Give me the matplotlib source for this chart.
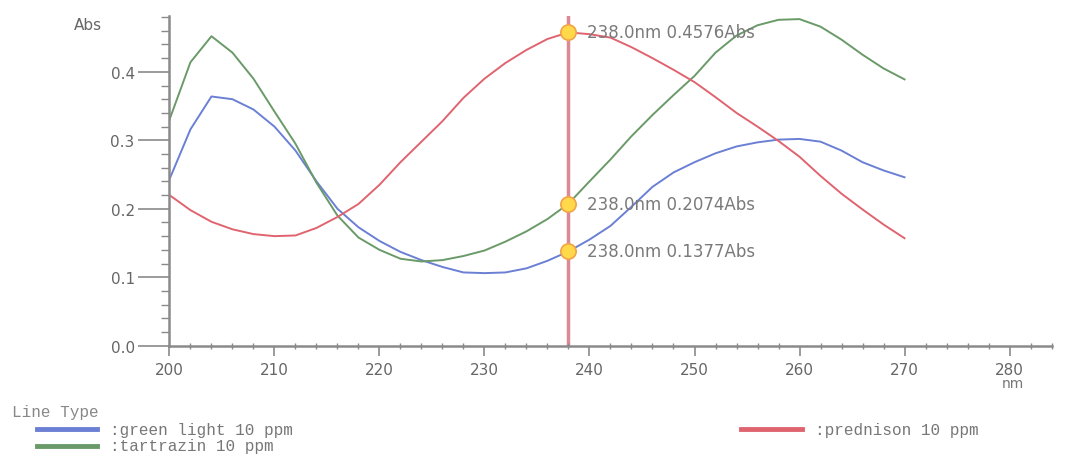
import matplotlib.pyplot as plt
from matplotlib.ticker import MultipleLocator, FormatStrFormatter

# wavelength grid (nm) and absorbance
wavelength = list(range(200, 272, 2))

green_light = [0.243, 0.316, 0.364, 0.360, 0.345, 0.320, 0.285, 0.240, 0.200, 0.173,
               0.153, 0.137, 0.125, 0.115, 0.107, 0.106, 0.107, 0.113, 0.124, 0.1377,
               0.155, 0.175, 0.203, 0.232, 0.253, 0.268, 0.281, 0.291, 0.297, 0.301,
               0.302, 0.298, 0.285, 0.268, 0.256, 0.246]

tartrazin = [0.330, 0.414, 0.452, 0.428, 0.390, 0.342, 0.295, 0.238, 0.190, 0.158,
             0.140, 0.127, 0.123, 0.125, 0.131, 0.139, 0.152, 0.167, 0.185, 0.2074,
             0.240, 0.272, 0.306, 0.337, 0.366, 0.394, 0.428, 0.453, 0.468, 0.476,
             0.477, 0.466, 0.447, 0.425, 0.405, 0.389]

prednison = [0.220, 0.198, 0.181, 0.170, 0.163, 0.160, 0.161, 0.172, 0.188, 0.207,
             0.235, 0.268, 0.298, 0.328, 0.362, 0.390, 0.413, 0.432, 0.448, 0.4576,
             0.455, 0.450, 0.436, 0.420, 0.403, 0.385, 0.363, 0.340, 0.320, 0.299,
             0.276, 0.248, 0.222, 0.199, 0.177, 0.157]

cursor_nm = 238.0

series = [
    (':green light 10 ppm', green_light, '#6b80d4'),
    (':tartrazin 10 ppm', tartrazin, '#6a9a68'),
    (':prednison 10 ppm', prednison, '#e0646f'),
]

fig = plt.figure(figsize=(10.89, 4.56), dpi=100)
ax = fig.add_axes([0.1556, 0.2397, 0.810, 0.7237])

for name, vals, col in series:
    ax.plot(wavelength, vals, color=col, lw=1.4)

ax.axvline(cursor_nm, color='#d98a95', lw=2.5, zorder=1)

# cursor readouts
idx = wavelength.index(int(cursor_nm))
for name, vals, col in series:
    v = vals[idx]
    ax.plot(cursor_nm, v, 'o', ms=11, mfc='#ffd94a', mec='#f2a348', mew=1.2, zorder=5)
    ax.annotate(f'{cursor_nm:.1f}nm {v:.4f}Abs', (cursor_nm, v), xytext=(13, 0),
                textcoords='offset points', va='center', ha='left',
                fontsize=12, color='#7a7a7a')

ax.set_xlim(200, 284)
ax.set_ylim(0, 0.482)

for s in ['top', 'right']:
    ax.spines[s].set_visible(False)
for s in ['left', 'bottom']:
    ax.spines[s].set_color('#8a8a8a')
    ax.spines[s].set_linewidth(1.8)

ax.xaxis.set_major_locator(MultipleLocator(10))
ax.xaxis.set_minor_locator(MultipleLocator(2))
ax.yaxis.set_major_locator(MultipleLocator(0.1))
ax.yaxis.set_minor_locator(MultipleLocator(0.02))
ax.yaxis.set_major_formatter(FormatStrFormatter('%.1f'))

ax.tick_params(axis='y', which='major', direction='out', length=22, width=1.2,
               color='#8a8a8a', labelsize=11, labelcolor='#666666', pad=3)
ax.tick_params(axis='y', which='minor', direction='out', length=6, width=1.0,
               color='#8a8a8a')
ax.tick_params(axis='x', which='major', direction='out', length=7, width=1.2,
               color='#8a8a8a', labelsize=11, labelcolor='#666666', pad=5)
ax.tick_params(axis='x', which='minor', direction='inout', length=5, width=1.0,
               color='#8a8a8a')

fig.text(0.081, 0.945, 'Abs', fontsize=11, color='#666666', ha='center', va='center')
fig.text(0.930, 0.158, 'nm', fontsize=10, color='#777777', ha='center', va='center')

# legend block under the chart
mono = 'Liberation Mono'
fig.text(0.011, 0.096, 'Line Type', fontsize=11.5, family=mono, color='#888888', va='center')
legend_pos = [(0.034, 0.101, 0.057), (0.034, 0.101, 0.020), (0.680, 0.748, 0.057)]
for (name, vals, col), (x0, x1, y) in zip(series, legend_pos):
    fig.add_artist(plt.Line2D([x0, x1 - 0.012], [y, y], color=col, lw=3.5,
                              transform=fig.transFigure))
    fig.text(x1, y, name, fontsize=11.5, family=mono, color='#777777', va='center')

fig.savefig('out.png', dpi=100)
